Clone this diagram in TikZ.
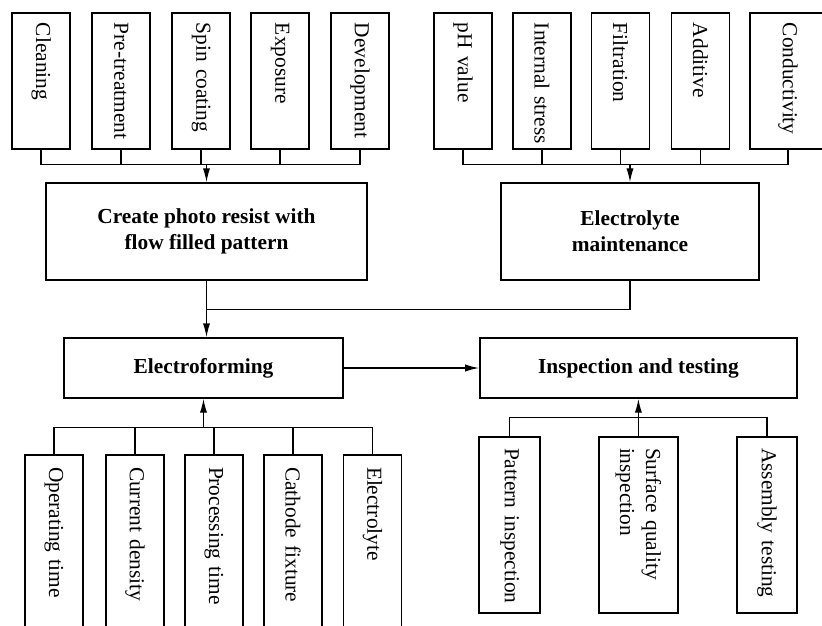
\documentclass[tikz,border=0pt]{standalone}
\usepackage{fontspec}
\setmainfont{Liberation Serif}
\usetikzlibrary{positioning, arrows.meta}
\hyphenpenalty=10000
\exhyphenpenalty=10000

\begin{document}
\begin{tikzpicture}[
		every node/.style={font=\fontsize{15.2pt}{18.5pt}\selectfont},
		stage/.style={draw, line width=1pt, align=center, font=\fontsize{15.2pt}{18.5pt}\selectfont\bfseries},
		factor/.style={draw, line width=1pt, rotate=-90, align=left},
		topf/.style={factor, inner xsep=0.25cm, text width=2.9cm, minimum height=1.45cm},
		lowf/.style={factor, inner xsep=0.3cm, text width=4.4cm, minimum height=1.45cm},
		testf/.style={factor, inner xsep=0.275cm, text width=3.85cm, minimum height=1.5cm},
		link/.style={line width=1pt},
		arr/.style={line width=1pt, -{Latex[length=3.5mm,width=1.8mm]}}]
		
		\useasboundingbox (0,0) rectangle (20.55,-15.65);
		
		% photo resist factors
		\node[topf] (cl) at (1.03,-2.025) {Cleaning};
		\node[topf] (pt) at (3.03,-2.025) {Pre-treatment};
		\node[topf] (sc) at (5.03,-2.025) {Spin~coating};
		\node[topf] (ex) at (7.0,-2.025) {Exposure};
		\node[topf] (dv) at (9.0,-2.025) {Development};
		
		% electrolyte factors
		\node[topf] (ph) at (11.575,-2.025) {pH~value};
		\node[topf] (is) at (13.55,-2.025) {Internal~stress};
		\node[topf] (fi) at (15.51,-2.025) {Filtration};
		\node[topf] (ad) at (17.51,-2.025) {Additive};
		\node[topf, minimum height=1.9cm] (cd) at (19.7,-2.025) {Conductivity};
		
		% main stages
		\node[stage, minimum width=8.025cm, minimum height=2.425cm] (create) at (5.1625,-5.7875) {Create photo resist with\\flow filled pattern};
		\node[stage, minimum width=6.45cm, minimum height=2.425cm] (elmaint) at (15.75,-5.7875) {Electrolyte\\maintenance};
		\node[stage, minimum width=6.975cm, minimum height=1.5cm] (electro) at (5.0875,-9.2) {Electroforming};
		\node[stage, minimum width=7.925cm, minimum height=1.5cm] (inspect) at (15.96,-9.2) {Inspection and testing};
		
		% electroforming factors
		\node[lowf] (ot) at (1.35,-13.875) {Operating~time};
		\node[lowf] (cu) at (3.375,-13.875) {Current~density};
		\node[lowf] (pr) at (5.35,-13.875) {Processing~time};
		\node[lowf] (ca) at (7.325,-13.875) {Cathode~fixture};
		\node[lowf] (el) at (9.3125,-13.875) {Electrolyte};
		
		% testing factors
		\node[testf, minimum height=1.525cm] (pi) at (12.74,-13.125) {Pattern~inspection};
		\node[testf, minimum height=1.975cm] (sq) at (15.96,-13.125) {Surface~quality\\inspection};
		\node[testf] (at) at (19.175,-13.125) {Assembly~testing};
		
		\coordinate[above=0.45cm of create] (busA);
		\coordinate[above=0.45cm of elmaint] (busB);
		\coordinate[below=0.725cm of create] (joinA);
		\coordinate[below=0.725cm of electro] (busC);
		\coordinate[below=0.475cm of inspect] (busD);
		
		\draw[link] (cl.east) -- (cl.east |- busA) -- (dv.east |- busA) -- (dv.east);
		\draw[link] (pt.east) -- (pt.east |- busA);
		\draw[link] (sc.east) -- (sc.east |- busA);
		\draw[link] (ex.east) -- (ex.east |- busA);
		\draw[arr] (busA) -- (create.north);
		
		\draw[link] (ph.east) -- (ph.east |- busB) -- (cd.east |- busB) -- (cd.east);
		\draw[link] (is.east) -- (is.east |- busB);
		\draw[link] (fi.east) -- (fi.east |- busB);
		\draw[link] (ad.east) -- (ad.east |- busB);
		\draw[arr] (busB) -- (elmaint.north);
		
		\draw[link] (create.south) -- (joinA) -- (joinA -| elmaint.south) -- (elmaint.south);
		\draw[arr] (joinA) -- (joinA |- electro.north);
		\draw[arr] (electro.east) -- (inspect.west);
		
		\draw[link] (ot.west) -- (ot.west |- busC) -- (el.west |- busC) -- (el.west);
		\draw[link] (cu.west) -- (cu.west |- busC);
		\draw[link] (pr.west) -- (pr.west |- busC);
		\draw[link] (ca.west) -- (ca.west |- busC);
		\draw[arr] (busC) -- (electro.south);
		
		\draw[link] (pi.west) -- (pi.west |- busD) -- (at.west |- busD) -- (at.west);
		\draw[arr] (sq.west) -- (inspect.south);
	\end{tikzpicture}
\end{document}
